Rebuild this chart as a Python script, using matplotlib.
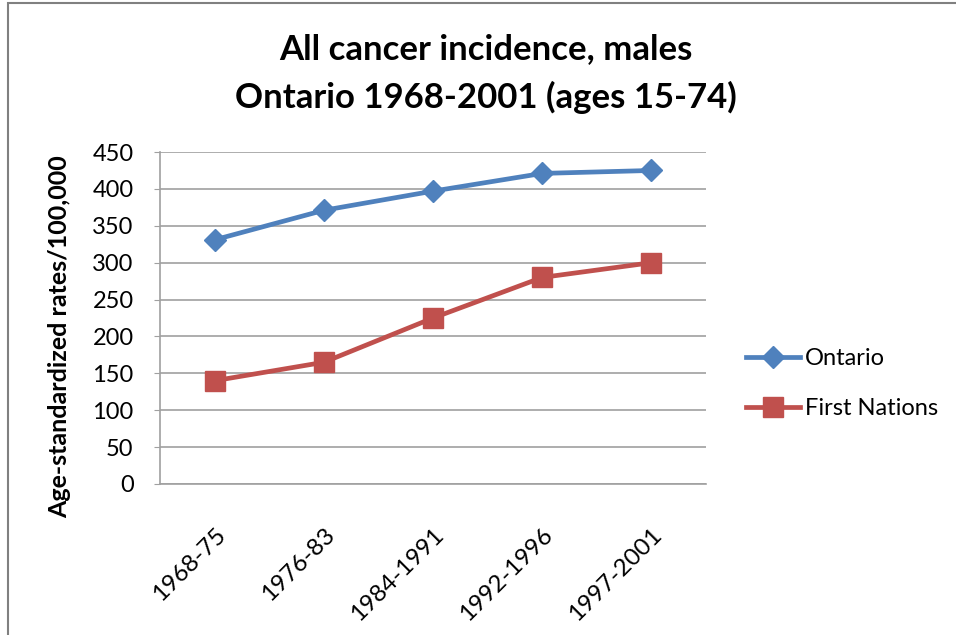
import matplotlib.pyplot as plt
from matplotlib.patches import Rectangle
from matplotlib.transforms import ScaledTranslation

plt.rcParams['font.family'] = ['Lato', 'DejaVu Sans']

periods = ["1968-75", "1976-83", "1984-1991", "1992-1996", "1997-2001"]
ontario = [331, 371, 397, 421, 425]
first_nations = [140, 165, 225, 280, 300]
yticks = [0, 50, 100, 150, 200, 250, 300, 350, 400, 450]

blue = "#4F81BD"
red = "#C0504D"
grid_col = "#A0A0A0"

fig = plt.figure(figsize=(9.56, 6.35), dpi=100)
fig.patches.append(Rectangle((0.008, -0.01), 1.1, 1.005, transform=fig.transFigure,
                             fill=False, edgecolor="#808080", linewidth=1.5))

ax = fig.add_axes([0.1674, 0.2378, 0.5711, 0.5228])
x = list(range(len(periods)))
ax.plot(x, ontario, color=blue, linewidth=3.4, marker="D", markersize=11.5,
        label="Ontario")
ax.plot(x, first_nations, color=red, linewidth=3.4, marker="s", markersize=14.5,
        label="First Nations")

ax.set_xlim(-0.5, len(periods) - 0.5)
ax.set_ylim(0, 450)
ax.set_yticks(yticks)
ax.set_yticklabels([str(v) for v in yticks], fontsize=17)
ax.set_xticks(x)
ax.set_xticklabels(periods, fontsize=17.5, rotation=45, ha="right",
                   rotation_mode="anchor")
shift = ScaledTranslation(3 / 100, 0, fig.dpi_scale_trans)
for lab in ax.get_xticklabels():
    lab.set_transform(lab.get_transform() + shift)
ax.tick_params(axis="x", length=0, pad=29)
ax.tick_params(axis="y", length=4, color=grid_col, pad=15)
ax.grid(axis="y", color=grid_col, linewidth=1.2)
ax.set_axisbelow(True)
for s in ["top", "right"]:
    ax.spines[s].set_visible(False)
for s in ["left", "bottom"]:
    ax.spines[s].set_color(grid_col)
    ax.spines[s].set_linewidth(1.2)

ax.set_ylabel("Age-standardized rates/100,000", fontsize=18, fontweight="bold")
ax.yaxis.set_label_coords(-0.162, 0.443)

fig.text(0.508, 0.922, "All cancer incidence, males", ha="center", va="center",
         fontsize=25, fontweight="bold")
fig.text(0.508, 0.846, "Ontario 1968-2001 (ages 15-74)", ha="center", va="center",
         fontsize=25, fontweight="bold")

fig.legend(loc="center left", bbox_to_anchor=(0.758, 0.396), frameon=False,
           fontsize=17, handlelength=2.3, labelspacing=1.22, handletextpad=0.2)

fig.savefig("out.png", dpi=100)
